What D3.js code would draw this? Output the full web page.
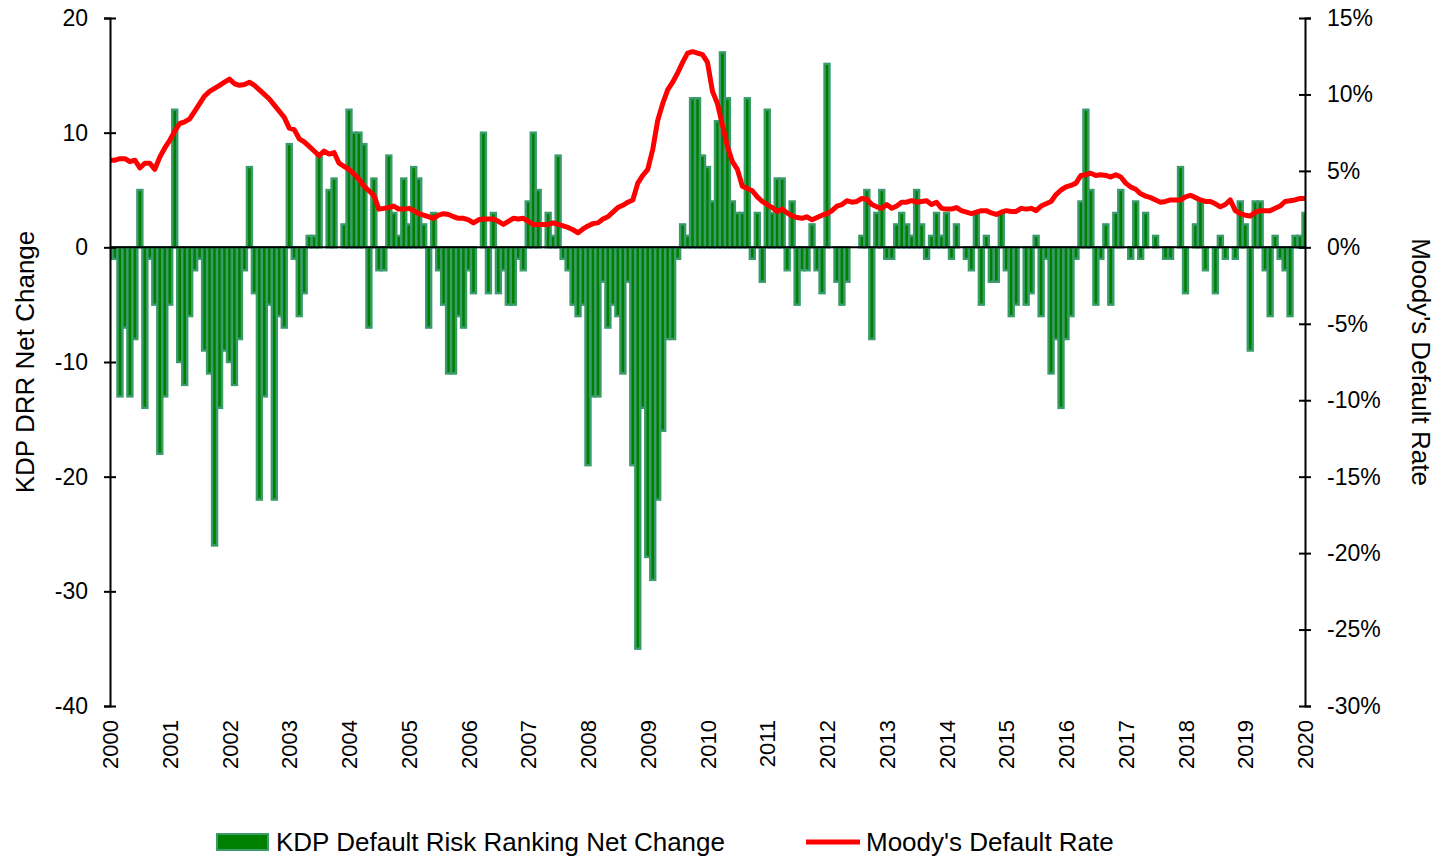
<!DOCTYPE html>
<html>
<head>
<meta charset="utf-8">
<script src="https://cdn.jsdelivr.net/npm/d3@7"></script>
<style>
  body { margin: 0; background: #fff; }
  text { font-family: "Liberation Sans", Arial, sans-serif; fill: #000; }
</style>
</head>
<body>
<svg width="1443" height="857"></svg>
<script>
const svg = d3.select('svg');

// monthly values, Jan 2000 .. Jan 2020
const kdpNetChange = [
  -1,-1,-13,-7,-13,-8,5,-14,-1,-5,-18,-13,-5,12,-10,-12,-6,-2,-1,-9,-11,-26,-14,-9,-10,
  -12,-8,-2,7,-4,-22,-13,-5,-22,-6,-7,9,-1,-6,-4,1,1,8,0,5,6,0,2,12,
  10,10,9,-7,6,-2,-2,8,3,1,6,2,7,6,2,-7,3,-2,-5,-11,-11,-6,-7,-2,
  -4,0,10,-4,3,-4,-2,-5,-5,-1,-2,4,10,5,0,3,1,8,-1,-2,-5,-6,-5,-19,
  -13,-13,-3,-7,-5,-6,-11,-3,-19,-35,-14,-27,-29,-22,-16,-8,-8,-1,2,1,13,13,8,7,4,
  11,17,13,4,3,3,13,-1,3,-3,12,3,6,6,-2,4,-5,-2,-2,2,-2,-4,16,
  0,-3,-5,-3,0,0,1,5,-8,3,5,-1,-1,2,3,2,1,5,2,-1,1,3,1,3,
  -1,2,0,-1,-2,3,-5,1,-3,-3,3,-2,-6,-5,0,-5,-4,1,-6,-1,-11,-8,-14,-8,
  -6,-1,4,12,5,-5,-1,2,-5,3,5,0,-1,4,-1,3,0,1,0,-1,-1,0,7,-4,
  0,2,4,-2,0,-4,1,-1,0,-1,4,2,-9,4,4,-2,-6,1,-1,-2,-6,1,1,3
];

const moodysRate = [
  5.7,5.7,5.8,5.8,5.6,5.7,5.2,5.5,5.5,5.1,5.9,6.5,7.0,7.6,8.1,8.2,8.4,8.9,9.4,9.9,10.2,10.4,10.6,10.8,11.0,
  10.7,10.6,10.65,10.8,10.6,10.3,10.0,9.7,9.3,8.9,8.5,7.8,7.7,7.1,6.9,6.6,6.3,6.0,6.3,6.1,6.2,5.5,5.3,5.1,
  4.8,4.45,4.0,3.7,3.4,2.5,2.55,2.6,2.7,2.5,2.5,2.55,2.4,2.2,2.1,2.0,1.9,2.1,2.2,2.15,2.0,1.9,1.9,1.8,
  1.6,1.8,1.85,1.85,1.85,1.7,1.5,1.7,1.9,1.85,1.9,1.7,1.5,1.5,1.5,1.5,1.6,1.5,1.4,1.3,1.15,0.95,1.2,1.4,
  1.55,1.6,1.85,2.0,2.3,2.6,2.75,2.95,3.1,4.2,4.7,5.1,6.4,8.3,9.4,10.3,10.8,11.4,12.1,12.7,12.8,12.7,12.6,12.1,10.2,
  9.4,8.0,6.6,5.6,5.1,4.0,3.85,3.7,3.3,3.0,2.8,2.6,2.35,2.5,2.25,2.05,1.95,1.9,2.0,1.8,1.95,2.1,2.2,
  2.4,2.7,2.8,3.05,2.95,3.0,3.2,3.15,2.8,2.65,2.55,2.8,2.55,2.7,2.95,2.95,3.05,2.95,3.0,3.05,2.8,2.95,2.55,2.5,
  2.5,2.6,2.4,2.3,2.2,2.3,2.4,2.4,2.25,2.15,2.3,2.4,2.35,2.35,2.55,2.5,2.55,2.4,2.7,2.85,3.0,3.45,3.75,3.95,
  4.05,4.2,4.7,4.75,4.85,4.7,4.75,4.7,4.6,4.75,4.6,4.2,3.95,3.8,3.5,3.35,3.25,3.1,2.95,3.0,3.1,3.1,3.1,3.3,
  3.4,3.25,3.1,3.0,3.0,2.85,2.65,2.8,3.1,2.4,2.2,2.1,2.05,2.3,2.4,2.4,2.4,2.55,2.7,3.0,3.05,3.1,3.2,3.2
];

const yearLabels = ['2000','2001','2002','2003','2004','2005','2006','2007','2008','2009','2010',
  '2011','2012','2013','2014','2015','2016','2017','2018','2019','2020'];
const leftTicks = [20, 10, 0, -10, -20, -30, -40];
const rightTicks = [15, 10, 5, 0, -5, -10, -15, -20, -25, -30];

const margin = { top: 18, left: 110, right: 138, bottom: 151 };
const width = +svg.attr('width');
const height = +svg.attr('height');
const innerWidth = width - margin.left - margin.right;
const innerHeight = height - margin.top - margin.bottom;

const data = kdpNetChange.map((v, i) => ({ i, kdp: v, rate: moodysRate[i] }));

const xScale = d3.scaleLinear()
  .domain([0, kdpNetChange.length - 1])
  .range([0, innerWidth]);
const barW = xScale(1) - xScale(0);

const yLeft = d3.scaleLinear().domain([-40, 20]).range([innerHeight, 0]);
const yRight = d3.scaleLinear().domain([-30, 15]).range([innerHeight, 0]);

const g = svg.append('g')
  .attr('transform', `translate(${margin.left},${margin.top})`);

g.append('clipPath').attr('id', 'plot')
  .append('rect').attr('x', 0).attr('y', -5).attr('width', innerWidth).attr('height', innerHeight + 10);

// bars
g.append('g').attr('clip-path', 'url(#plot)')
  .selectAll('rect')
  .data(data)
  .enter()
  .append('rect')
  .attr('x', d => xScale(d.i) - barW / 2)
  .attr('width', barW)
  .attr('y', d => yLeft(Math.max(0, d.kdp)))
  .attr('height', d => Math.abs(yLeft(d.kdp) - yLeft(0)))
  .attr('fill', '#008000')
  .attr('stroke', '#3a9b6b')
  .attr('stroke-width', 2.4);

// zero line
g.append('line')
  .attr('x1', 0).attr('x2', innerWidth)
  .attr('y1', yLeft(0)).attr('y2', yLeft(0))
  .attr('stroke', '#000').attr('stroke-width', 2);

// default rate line
const line = d3.line()
  .x(d => xScale(d.i))
  .y(d => yRight(d.rate));

g.append('path')
  .datum(data)
  .attr('d', line)
  .attr('fill', 'none')
  .attr('stroke', '#ff0000')
  .attr('stroke-width', 5)
  .attr('stroke-linejoin', 'round');

// left axis
const leftAxis = d3.axisLeft(yLeft).tickValues(leftTicks)
  .tickFormat(d => String(d)).tickSize(6).tickPadding(16);
const leftG = g.append('g').call(leftAxis);
leftG.select('.domain').attr('stroke-width', 2);
leftG.selectAll('.tick line').attr('x2', 6).attr('x1', -6).attr('stroke-width', 2);
leftG.selectAll('.tick text')
  .style('font-size', '23px')
  .style('font-family', '"Liberation Sans", Arial, sans-serif');

// right axis
const rightAxis = d3.axisRight(yRight).tickValues(rightTicks)
  .tickFormat(d => d + '%').tickSize(6).tickPadding(16);
const rightG = g.append('g')
  .attr('transform', `translate(${innerWidth},0)`)
  .call(rightAxis);
rightG.select('.domain').attr('stroke-width', 2);
rightG.selectAll('.tick line').attr('x1', -6).attr('x2', 6).attr('stroke-width', 2);
rightG.selectAll('.tick text')
  .style('font-size', '23px')
  .style('font-family', '"Liberation Sans", Arial, sans-serif');

// year labels
g.append('g')
  .selectAll('text')
  .data(yearLabels)
  .enter()
  .append('text')
  .attr('transform', (d, k) => `translate(${xScale(k * 12) + 8},${innerHeight + 14}) rotate(-90)`)
  .attr('text-anchor', 'end')
  .style('font-size', '22px')
  .text(d => d);

// axis titles
svg.append('text')
  .attr('transform', `translate(34,${margin.top + yLeft(-10)}) rotate(-90)`)
  .attr('text-anchor', 'middle')
  .style('font-size', '26px')
  .text('KDP DRR Net Change');

svg.append('text')
  .attr('transform', `translate(1412,${margin.top + yLeft(-10)}) rotate(90)`)
  .attr('text-anchor', 'middle')
  .style('font-size', '26px')
  .text("Moody's Default Rate");

// legend
const legend = svg.append('g').attr('transform', 'translate(0,842)');
legend.append('rect')
  .attr('x', 217).attr('y', -8).attr('width', 51).attr('height', 16)
  .attr('fill', '#008000').attr('stroke', '#3a9b6b').attr('stroke-width', 2);
legend.append('text')
  .attr('x', 276).attr('y', 9)
  .style('font-size', '26px')
  .text('KDP Default Risk Ranking Net Change');
legend.append('line')
  .attr('x1', 806).attr('x2', 860).attr('y1', 0).attr('y2', 0)
  .attr('stroke', '#ff0000').attr('stroke-width', 5);
legend.append('text')
  .attr('x', 866).attr('y', 9)
  .style('font-size', '26px')
  .text("Moody's Default Rate");
</script>
</body>
</html>
